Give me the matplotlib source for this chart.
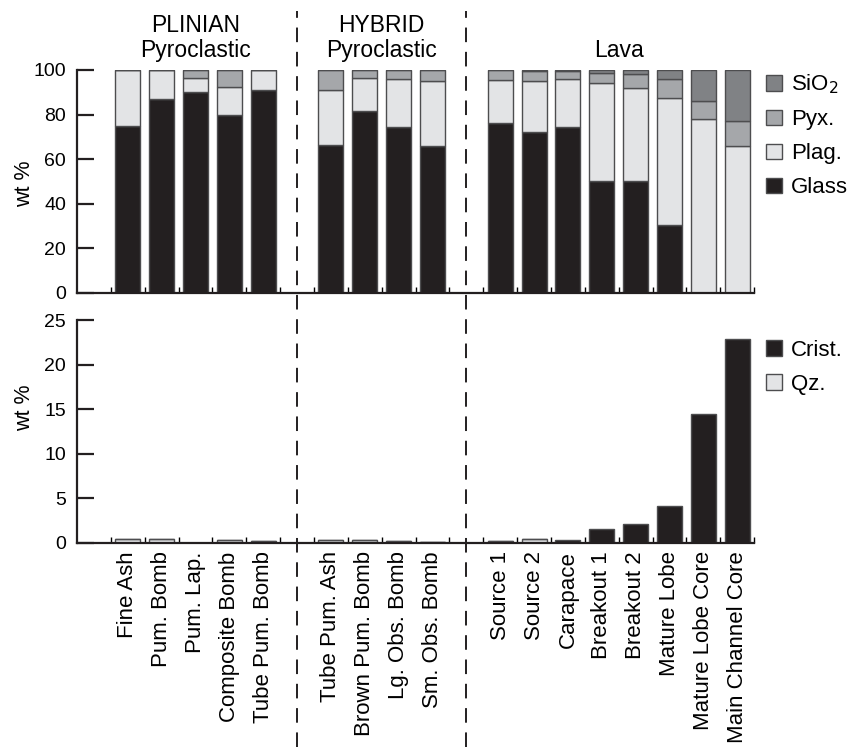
import numpy as np
import matplotlib.pyplot as plt
from matplotlib.transforms import blended_transform_factory
from matplotlib.lines import Line2D

plt.rcParams['font.family'] = ['Liberation Sans', 'DejaVu Sans']

# === DATA ===
groups = ["PLINIAN\nPyroclastic", "HYBRID\nPyroclastic", "Lava"]
plinian = ["Fine Ash", "Pum. Bomb", "Pum. Lap.", "Composite Bomb", "Tube Pum. Bomb"]
hybrid = ["Tube Pum. Ash", "Brown Pum. Bomb", "Lg. Obs. Bomb", "Sm. Obs. Bomb"]
lava = ["Source 1", "Source 2", "Carapace", "Breakout 1", "Breakout 2",
        "Mature Lobe", "Mature Lobe Core", "Main Channel Core"]

# top panel: modal wt %
glass = [75.0, 87.1, 90.3, 79.7, 91.2,
         66.4, 81.6, 74.6, 66.1,
         76.4, 72.0, 74.6, 50.4, 50.1, 30.6, 0.0, 0.0]
plag = [25.0, 12.9, 6.2, 12.5, 8.8,
        24.5, 14.7, 21.2, 28.8,
        19.1, 23.2, 21.4, 43.6, 42.0, 57.0, 78.2, 66.1]
pyx = [0.0, 0.0, 3.5, 7.8, 0.0,
       9.1, 3.7, 4.2, 5.1,
       4.5, 4.3, 3.5, 4.8, 6.1, 8.5, 7.8, 11.2]
sio2 = [0.0, 0.0, 0.0, 0.0, 0.0,
        0.0, 0.0, 0.0, 0.0,
        0.0, 0.3, 0.5, 1.2, 1.8, 3.9, 14.0, 22.7]

# bottom panel: silica phases wt %
qz = [0.5, 0.5, 0.05, 0.37, 0.2,
      0.37, 0.37, 0.25, 0.15,
      0.2, 0.45, 0.0, 0.0, 0.0, 0.0, 0.0, 0.0]
crist = [0.0, 0.0, 0.0, 0.0, 0.0,
         0.0, 0.0, 0.0, 0.0,
         0.0, 0.0, 0.37, 1.53, 2.1, 4.2, 14.5, 22.9]

labels = plinian + hybrid + lava

# slots: one empty slot before each group
sizes = [len(plinian), len(hybrid), len(lava)]
x = []
seps = []
start = 0
for n in sizes:
    seps.append(start)
    x.extend(range(start + 1, start + 1 + n))
    start += n + 1
x = np.array(x)
nslots = start

c_glass = '#231f20'
c_plag = '#e3e4e6'
c_pyx = '#a5a7aa'
c_sio2 = '#808285'
edge = '#4d4d4f'
w = 0.74

fig = plt.figure(figsize=(8.56, 7.47), dpi=100)
ax1 = fig.add_axes([0.090, 0.6078, 0.791, 0.2985])
ax2 = fig.add_axes([0.090, 0.2731, 0.791, 0.2985])

glass = np.array(glass); plag = np.array(plag); pyx = np.array(pyx); sio2 = np.array(sio2)
kw = dict(width=w, edgecolor=edge, linewidth=1.0)
ax1.bar(x, glass, color=c_glass, label='Glass', **kw)
ax1.bar(x, plag, bottom=glass, color=c_plag, label='Plag.', **kw)
ax1.bar(x, pyx, bottom=glass + plag, color=c_pyx, label='Pyx.', **kw)
ax1.bar(x, sio2, bottom=glass + plag + pyx, color=c_sio2, label='SiO$_2$', **kw)

qz = np.array(qz); crist = np.array(crist)
ax2.bar(x, qz, color=c_plag, label='Qz.', **kw)
ax2.bar(x, crist, bottom=qz, color=c_glass, label='Crist.', **kw)

for ax, ymax, step in [(ax1, 100, 20), (ax2, 25, 5)]:
    ax.set_xlim(-0.5, nslots - 0.5)
    ax.set_ylim(0, ymax)
    ax.set_yticks(np.arange(0, ymax + 1, step))
    for s in ['top', 'right']:
        ax.spines[s].set_visible(False)
    for s in ['left', 'bottom']:
        ax.spines[s].set_linewidth(1.6)
        ax.spines[s].set_color('#231f20')
    ax.tick_params(axis='y', direction='in', length=12, width=1.6,
                   labelsize=14, pad=8, color='#231f20')
    ax.set_xticks(np.arange(0.5, nslots, 1.0), minor=True)
    ax.tick_params(axis='x', which='minor', direction='in', length=4, width=1.0)
    ax.set_ylabel('wt %', fontsize=15.5)

ax1.yaxis.set_label_coords(-0.062, 0.49)
ax2.yaxis.set_label_coords(-0.062, 0.605)

ax1.set_xticks(x)
ax1.tick_params(axis='x', which='major', length=0, labelbottom=False)
ax2.set_xticks(x)
ax2.set_xticklabels(labels, rotation=90, fontsize=16)
ax2.tick_params(axis='x', which='major', length=0, pad=6)

# group titles
idx = 0
for g, n in zip(groups, sizes):
    cx = x[idx:idx + n].mean()
    ax1.text(cx, 103.5, g, ha='center', va='bottom', fontsize=16.5, linespacing=1.1,
             clip_on=False)
    idx += n

# dashed separators through the whole figure
tr = blended_transform_factory(ax1.transData, fig.transFigure)
for s in seps[1:]:
    fig.add_artist(Line2D([s, s], [0.0, 0.985], transform=tr, color='#231f20',
                          linestyle=(0, (7.5, 5)), linewidth=1.4))

lkw = dict(loc='upper left', frameon=False, fontsize=16, handlelength=0.7,
           handleheight=0.7, handletextpad=0.4, labelspacing=0.58, borderaxespad=0)
h1, l1 = ax1.get_legend_handles_labels()
ax1.legend(h1[::-1], l1[::-1], bbox_to_anchor=(1.005, 1.027), **lkw)
h2, l2 = ax2.get_legend_handles_labels()
ax2.legend(h2[::-1], l2[::-1], bbox_to_anchor=(1.005, 0.95), **lkw)

fig.savefig('out.png', dpi=100, facecolor='white')
